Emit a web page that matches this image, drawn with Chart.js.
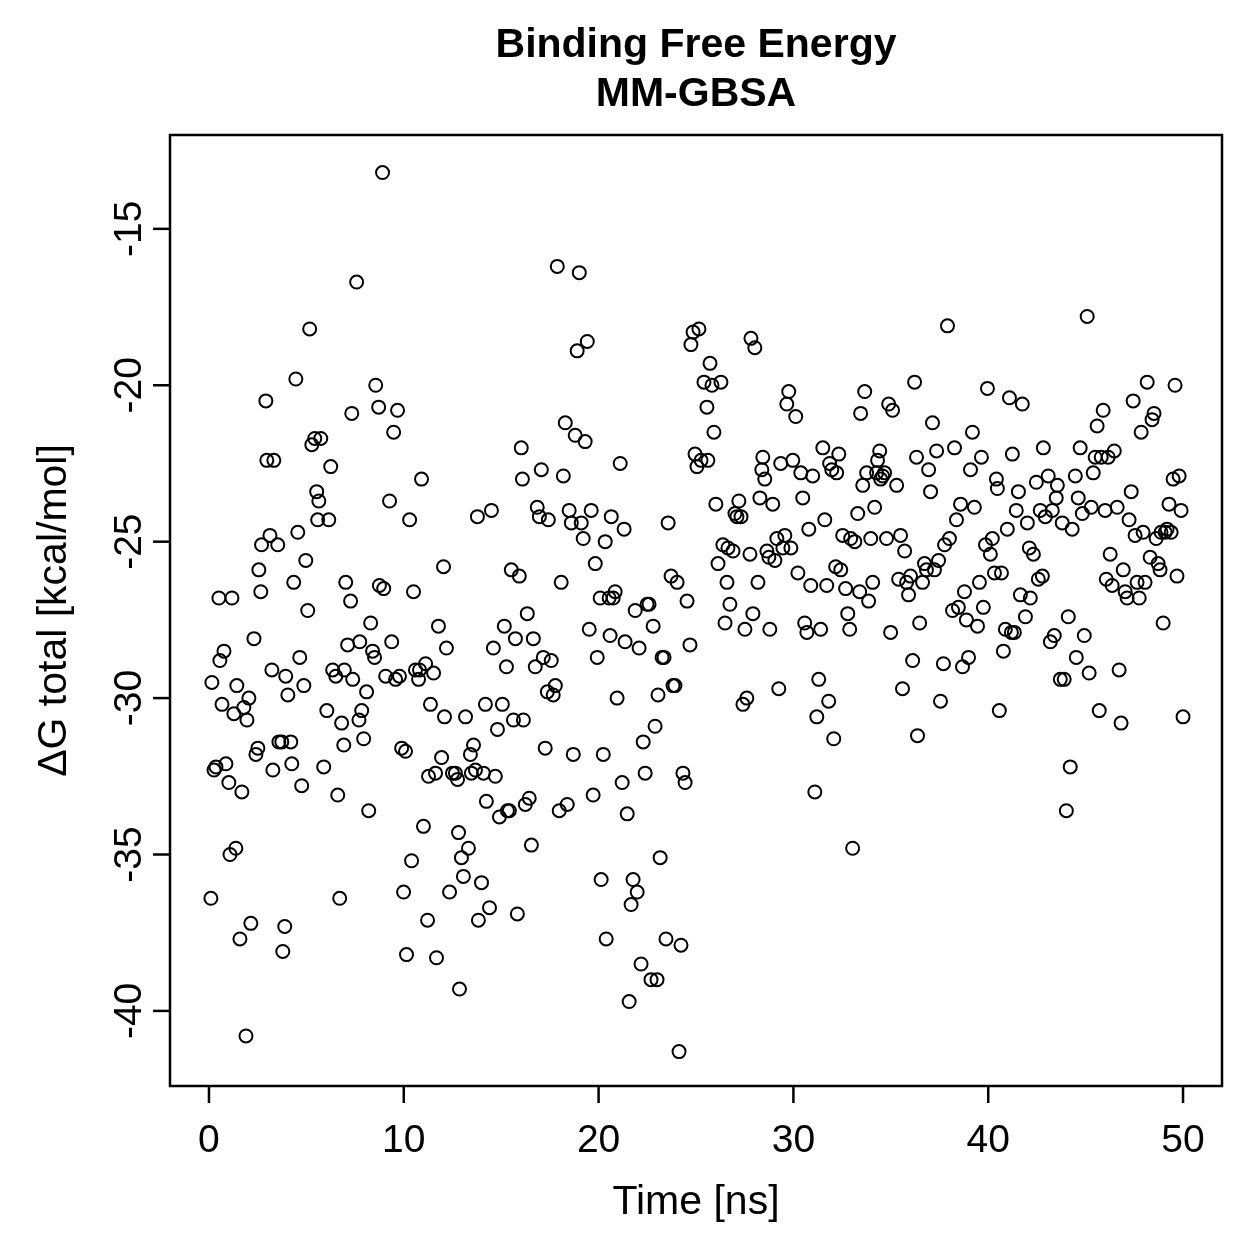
<!DOCTYPE html>
<html>
<head>
<meta charset="utf-8">
<script src="https://cdn.jsdelivr.net/npm/chart.js@4/dist/chart.umd.min.js"></script>
<style>
  html, body { margin: 0; padding: 0; background: #fff; }
  canvas { display: block; }
</style>
</head>
<body>
<canvas id="mmgbsa" width="1259" height="1259"></canvas>
<script>
const chartTitle = ['Binding Free Energy', 'MM-GBSA'];
const xTitle = 'Time [ns]';
const yTitle = 'ΔG total [kcal/mol]';
const xTicks = [0, 10, 20, 30, 40, 50];
const yTicks = [-15, -20, -25, -30, -35, -40];

// frame times (ns)
const timeNs = [
  0.10,0.15,0.26,0.36,0.51,0.56,0.77,0.67,0.87,1.02,1.08,1.18,1.28,1.43,1.38,1.59,1.69,1.79,1.90,1.95,
  2.05,2.15,2.31,2.41,2.51,2.56,2.66,2.70,2.92,2.97,3.13,3.23,3.33,3.28,3.53,3.59,3.74,3.79,3.89,3.94,
  4.05,4.20,4.25,4.35,4.46,4.56,4.66,4.76,4.87,4.97,5.07,5.17,
  5.28,5.43,5.53,5.64,5.74,5.58,5.89,6.05,6.15,6.25,6.35,6.51,6.61,6.71,6.81,6.92,6.95,7.02,7.12,7.27,
  7.33,7.38,7.58,7.74,7.84,7.70,7.94,8.09,8.20,8.30,8.40,8.50,8.56,8.71,8.75,8.91,8.97,9.07,9.27,9.38,
  9.48,9.58,9.68,9.78,9.89,9.99,10.09,
  10.14,10.30,10.40,10.50,10.60,10.76,10.81,10.91,11.01,11.12,11.22,11.27,11.37,11.53,11.63,11.68,11.78,11.94,12.04,12.09,
  12.19,12.35,12.50,12.65,12.81,12.76,12.86,12.96,13.06,13.17,13.32,13.42,13.47,13.58,13.68,13.78,13.83,13.99,14.09,14.19,
  14.24,14.40,14.50,14.60,14.70,14.81,14.91,
  15.06,15.16,15.27,15.32,15.42,15.52,15.63,15.73,15.83,15.93,16.03,16.09,16.14,16.24,16.34,16.44,16.55,16.65,16.75,16.85,
  16.96,17.06,17.16,17.26,17.37,17.42,17.57,17.67,17.78,17.88,17.98,18.08,18.19,18.29,18.39,18.49,18.60,18.70,18.80,18.90,
  19.01,19.11,19.21,19.31,19.42,19.52,19.62,19.72,19.83,19.93,
  20.08,20.13,20.24,20.34,20.39,20.54,20.59,20.65,20.75,20.85,20.95,21.11,21.21,21.31,21.36,21.47,21.57,21.67,21.77,21.88,
  21.98,22.08,22.18,22.29,22.39,22.49,22.59,22.69,22.80,22.90,23.00,23.05,23.16,23.26,23.36,23.46,23.57,23.72,23.82,23.92,
  24.03,24.13,24.23,24.33,24.44,24.54,24.69,24.74,24.85,24.95,25.05,
  25.15,25.26,25.41,25.56,25.61,25.72,25.82,25.92,26.02,26.13,26.28,26.38,26.49,26.59,26.64,26.74,26.90,27.00,27.10,27.20,
  27.31,27.41,27.51,27.61,27.77,27.82,27.92,28.02,28.18,28.28,28.38,28.43,28.53,28.64,28.74,28.79,28.94,29.05,29.15,29.25,
  29.35,29.46,29.56,29.66,29.76,29.87,29.97,
  30.12,30.23,30.38,30.48,30.58,30.69,30.79,30.89,30.99,31.10,31.20,31.30,31.40,31.51,31.61,31.71,31.81,31.86,31.97,32.07,
  32.17,32.22,32.33,32.43,32.53,32.68,32.79,32.89,32.94,33.04,33.15,33.30,33.40,33.45,33.56,33.66,33.76,33.86,33.97,34.07,
  34.17,34.27,34.32,34.43,34.48,34.58,34.68,34.78,34.89,34.99,35.09,
  35.30,35.40,35.50,35.60,35.71,35.81,35.91,36.01,36.12,36.22,36.32,36.37,36.48,36.63,36.73,36.83,36.94,37.04,37.14,37.24,
  37.35,37.45,37.55,37.70,37.76,37.91,38.01,38.17,38.27,38.37,38.47,38.58,38.68,38.78,38.88,38.99,39.09,39.19,39.29,39.45,
  39.55,39.65,39.75,39.86,39.96,
  40.11,40.21,40.32,40.42,40.47,40.57,40.68,40.78,40.88,40.98,41.09,41.19,41.24,41.34,41.44,41.55,41.65,41.75,41.91,42.01,
  42.11,42.16,42.32,42.47,42.57,42.67,42.78,42.83,42.93,43.08,43.19,43.29,43.39,43.49,43.55,43.70,43.80,43.90,44.01,44.11,
  44.21,44.31,44.47,44.52,44.62,44.72,44.83,44.93,
  45.08,45.18,45.29,45.39,45.49,45.59,45.70,45.80,45.90,46.00,46.06,46.16,46.26,46.36,46.47,46.62,46.72,46.82,46.93,47.03,
  47.13,47.23,47.34,47.44,47.54,47.64,47.75,47.85,47.95,48.05,48.16,48.31,48.41,48.51,48.62,48.72,48.82,48.87,48.98,49.08,
  49.18,49.28,49.39,49.49,49.59,49.69,49.80,49.90,50.00
];

// delta G total (kcal/mol), same order as timeNs
const deltaG = [
  -36.4,-29.5,-32.3,-32.2,-26.8,-28.8,-28.5,-30.2,-32.1,-32.7,-35.0,-26.8,-30.5,-29.6,-34.8,-37.7,-33.0,-30.3,-40.8,-30.7,
  -30.0,-37.2,-28.1,-31.8,-31.6,-25.9,-26.6,-25.1,-20.5,-22.4,-24.8,-29.1,-22.4,-32.3,-25.1,-31.4,-31.4,-38.1,-37.3,-29.3,
  -29.9,-31.4,-32.1,-26.3,-19.8,-24.7,-28.7,-32.8,-29.6,-25.6,-27.2,-18.2,
  -21.9,-21.7,-23.4,-23.7,-21.7,-24.3,-32.2,-30.4,-24.3,-22.6,-29.1,-29.3,-33.1,-36.4,-30.8,-31.5,-29.1,-26.3,-28.3,-26.9,
  -20.9,-29.4,-16.7,-28.2,-30.4,-30.7,-31.3,-29.8,-33.6,-27.6,-28.5,-28.7,-20.0,-20.7,-26.4,-13.2,-26.5,-29.3,-23.7,-28.2,
  -21.5,-29.4,-20.8,-29.3,-31.6,-36.2,-31.7,
  -38.2,-24.3,-35.2,-26.6,-29.1,-29.4,-29.1,-23.0,-34.1,-28.9,-37.1,-32.5,-30.2,-29.2,-32.4,-38.3,-27.7,-31.9,-25.8,-30.6,
  -28.4,-36.2,-32.4,-32.4,-34.3,-32.6,-39.3,-35.1,-35.7,-30.6,-34.8,-31.8,-32.4,-31.5,-32.3,-24.2,-37.1,-35.9,-32.4,-30.2,
  -33.3,-36.7,-24.0,-28.4,-32.5,-31.0,-33.8,
  -30.2,-27.7,-29.0,-33.6,-33.6,-25.9,-30.7,-28.1,-36.9,-26.1,-22.0,-23.0,-30.7,-33.4,-27.3,-33.2,-34.7,-28.1,-29.0,-23.9,
  -24.2,-22.7,-28.7,-31.6,-29.8,-24.3,-28.8,-29.9,-29.6,-16.2,-33.6,-26.3,-22.9,-21.2,-33.4,-24.0,-24.4,-31.8,-21.6,-18.9,
  -16.4,-24.4,-24.9,-21.8,-18.6,-27.8,-24.0,-33.1,-25.7,-28.7,
  -26.8,-35.8,-31.8,-25.0,-37.7,-26.8,-28.0,-24.2,-26.8,-26.6,-30.0,-22.5,-32.7,-24.6,-28.2,-33.7,-39.7,-36.6,-35.8,-27.2,
  -36.2,-28.4,-38.5,-31.4,-32.4,-27.0,-27.0,-39.0,-27.7,-30.9,-39.0,-29.9,-35.1,-28.7,-28.7,-37.7,-24.4,-26.1,-29.6,-29.6,
  -26.3,-41.3,-37.9,-32.4,-32.7,-26.9,-28.3,-18.7,-18.3,-22.2,-22.6,
  -18.2,-22.4,-19.9,-20.7,-22.4,-19.3,-20.0,-21.5,-23.8,-25.7,-19.9,-25.1,-27.6,-26.3,-25.2,-27.0,-25.3,-24.1,-24.2,-23.7,
  -24.2,-30.2,-27.8,-30.0,-25.4,-18.5,-27.3,-18.8,-26.3,-23.6,-22.7,-22.3,-23.0,-25.3,-25.5,-27.8,-23.8,-25.6,-24.9,-29.7,
  -22.5,-25.2,-24.8,-20.6,-20.2,-25.2,-22.4,
  -21.0,-26.0,-22.8,-23.6,-27.6,-27.9,-24.6,-26.4,-22.9,-33.0,-30.6,-29.4,-27.8,-22.0,-24.3,-26.4,-30.1,-22.5,-22.7,-31.3,
  -25.8,-22.8,-22.2,-25.9,-24.8,-26.5,-27.3,-27.8,-24.9,-34.8,-25.0,-24.1,-26.6,-20.9,-23.2,-20.2,-22.8,-26.9,-24.9,-26.3,
  -23.9,-22.8,-22.4,-22.1,-23.0,-22.9,-22.8,-24.9,-20.6,-27.9,-20.8,
  -23.2,-26.2,-24.8,-29.7,-25.3,-26.3,-26.7,-26.1,-28.8,-19.9,-22.3,-31.2,-27.6,-26.3,-25.7,-25.9,-22.7,-23.4,-21.2,-25.9,
  -22.1,-25.6,-30.1,-28.9,-25.1,-18.1,-24.9,-27.2,-22.0,-24.3,-27.1,-23.8,-29.0,-26.6,-27.5,-28.7,-22.7,-21.5,-23.9,-27.7,
  -26.3,-22.3,-27.1,-25.1,-20.1,
  -25.4,-24.9,-26.0,-23.0,-23.3,-30.4,-26.0,-28.5,-27.8,-24.6,-20.4,-27.9,-22.2,-27.9,-24.0,-23.4,-26.7,-20.6,-27.4,-24.4,
  -25.2,-26.8,-25.4,-23.1,-26.2,-24.0,-26.1,-22.0,-24.2,-22.9,-28.2,-24.0,-28.0,-23.6,-23.2,-29.4,-24.4,-29.4,-33.6,-27.4,
  -32.2,-24.6,-22.9,-28.7,-23.6,-22.0,-24.1,-28.0,
  -17.8,-29.2,-23.9,-22.8,-22.3,-21.3,-30.4,-22.3,-20.8,-24.0,-26.2,-22.3,-25.4,-26.4,-22.1,-23.9,-29.1,-30.8,-25.9,-26.6,
  -26.8,-24.3,-23.4,-20.5,-24.8,-26.3,-26.8,-21.5,-24.7,-26.3,-19.9,-25.5,-21.1,-20.9,-24.9,-25.7,-25.9,-24.7,-27.6,-24.7,
  -24.6,-23.8,-24.7,-23.0,-20.0,-26.1,-22.9,-24.0,-30.6
];

const FONT = '"Liberation Sans", Arial, Helvetica, sans-serif';

// R-style box, outward ticks, rotated y labels, titles
const rFrame = {
  id: 'rFrame',
  afterDraw(chart) {
    const { ctx, chartArea: a, scales: { x, y } } = chart;
    const tick = 17;
    ctx.save();
    ctx.strokeStyle = '#000';
    ctx.fillStyle = '#000';
    ctx.lineWidth = 2.5;
    ctx.strokeRect(a.left, a.top, a.right - a.left, a.bottom - a.top);

    ctx.font = '39px ' + FONT;
    ctx.textAlign = 'center';
    ctx.textBaseline = 'middle';
    xTicks.forEach(v => {
      const px = x.getPixelForValue(v);
      ctx.beginPath(); ctx.moveTo(px, a.bottom); ctx.lineTo(px, a.bottom + tick); ctx.stroke();
      ctx.fillText(String(v), px, a.bottom + 55);
    });
    yTicks.forEach(v => {
      const py = y.getPixelForValue(v);
      ctx.beginPath(); ctx.moveTo(a.left - tick, py); ctx.lineTo(a.left, py); ctx.stroke();
      ctx.save();
      ctx.translate(a.left - 40, py);
      ctx.rotate(-Math.PI / 2);
      ctx.fillText(String(v), 0, 0);
      ctx.restore();
    });

    ctx.font = '41px ' + FONT;
    ctx.fillText(xTitle, (a.left + a.right) / 2, a.bottom + 117);
    ctx.save();
    ctx.translate(a.left - 115, (a.top + a.bottom) / 2);
    ctx.rotate(-Math.PI / 2);
    ctx.fillText(yTitle, 0, 0);
    ctx.restore();

    ctx.font = 'bold 41px ' + FONT;
    ctx.fillText(chartTitle[0], (a.left + a.right) / 2, 46);
    ctx.fillText(chartTitle[1], (a.left + a.right) / 2, 95);
    ctx.restore();
  }
};

new Chart(document.getElementById('mmgbsa'), {
  type: 'scatter',
  data: {
    datasets: [{
      label: 'dG',
      data: timeNs.map((t, i) => ({ x: t, y: deltaG[i] })),
      pointStyle: 'circle',
      pointRadius: 6.5,
      pointHoverRadius: 6.5,
      borderColor: '#000',
      backgroundColor: 'rgba(0,0,0,0)',
      borderWidth: 2
    }]
  },
  options: {
    responsive: false,
    animation: false,
    devicePixelRatio: 1,
    layout: { padding: { left: 170, top: 135, right: 37, bottom: 173 } },
    plugins: { legend: { display: false }, tooltip: { enabled: false }, title: { display: false } },
    scales: {
      x: { type: 'linear', min: -2, max: 52, display: false },
      y: { type: 'linear', min: -42.4, max: -12.0, display: false }
    }
  },
  plugins: [rFrame]
});
</script>
</body>
</html>
